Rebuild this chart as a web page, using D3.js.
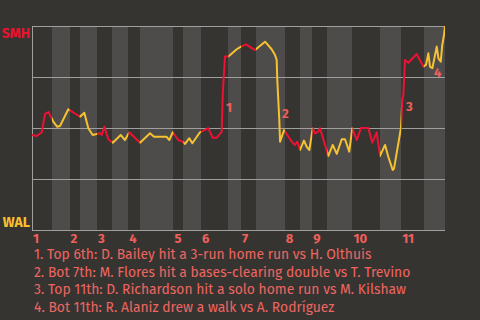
<!DOCTYPE html>
<html>
<head>
<meta charset="utf-8">
<script src="https://cdn.jsdelivr.net/npm/d3@7"></script>
<style>
  html, body { margin: 0; padding: 0; background: #363431; }
  svg { display: block; }
</style>
</head>
<body>
<div id="app"></div>
<script>
// pitches thrown in each half inning, top 1st .. bottom 11th
const halfPitches = [16, 14, 8, 14, 12, 13, 9, 27, 8, 14, 22, 10, 12, 23, 12, 10, 12, 20, 22, 17, 18, 17];
const innings = [1, 2, 3, 4, 5, 6, 7, 8, 9, 10, 11];
const yTicks = [0, 25, 50, 75, 100];

// win probability for SMH (%) by pitch of the game
const pitch = [0, 3.8, 7.8, 10.4, 13.3, 15.7, 17, 20.2, 22.4, 29, 38.4, 41.8, 45, 48.5, 51.7, 54.3, 55.7, 57.8, 61, 64.5,
  70.9, 74.3, 77.7, 86.3, 94.3, 97.5, 107.6, 109.7, 112.4, 116.9, 120.4, 122.3, 125.7, 128.1, 134.2, 140.9, 144.4, 147.6, 151.6, 152.4,
  153.2, 154.2, 156.9, 163.6, 167, 171, 178.2, 186.2, 191.5, 194.2, 195.5, 196, 197.6, 198.2, 201.4, 207.5, 210.1, 212, 214.1, 217.3,
  219.5, 221.6, 224.3, 226.1, 228.8, 230.1, 236.8, 240.3, 243.5, 247.5, 250.1, 253.5, 255.9, 259.5, 262.9, 268.7, 271.9, 275.4, 278.1, 282.1,
  284.7, 288.2, 289.3, 294.8, 295.9, 296.7, 298, 300.7, 307.4, 312.7, 314.8, 316.7, 318, 319.9, 323.4, 324.7, 326.6, 327.8, 329.2, 330];
const smhWinProb = [46.6, 46.1, 47.9, 56.9, 57.8, 54.8, 53.1, 50.6, 51, 59.2, 55.5, 57.5, 49.9, 46.6, 47.1, 47.4, 46.6, 50.6, 44.5, 42.8,
  46.6, 44.1, 47.9, 42.8, 47.4, 45.7, 45.7, 44.1, 47.9, 44.1, 43.3, 42.2, 45, 42.5, 47.9, 49.9, 45.2, 45.2, 48.2, 66.2,
  75.1, 85, 85, 88.6, 89.9, 91, 88.2, 92.3, 88.6, 85.8, 83.3, 73.5, 53.9, 43.3, 49, 43.3, 41.7, 43.3, 39.2, 43.8,
  40.8, 39.2, 49.9, 47.4, 48.2, 49.9, 36.3, 41.7, 37.3, 44.5, 44.5, 38.4, 49.9, 44.1, 50, 50, 42.8, 47.9, 36.3, 41.7,
  35.9, 29.4, 30.2, 49.9, 63.7, 66.2, 83.3, 82, 86.3, 80.1, 80.9, 86.6, 80.1, 79.3, 89.9, 84.2, 82.5, 90.7, 95.6, 100];

// key plays
const noteNum = ["1", "2", "3", "4"];
const notePitch = [154.2, 199, 298, 320.5];
const noteProb = [60.4, 57.5, 60.8, 77.6];
const notes = [
  "1. Top 6th: D. Bailey hit a 3-run home run vs H. Olthuis",
  "2. Bot 7th: M. Flores hit a bases-clearing double vs T. Trevino",
  "3. Top 11th: D. Richardson hit a solo home run vs M. Kilshaw",
  "4. Bot 11th: R. Alaniz drew a walk vs A. Rodríguez"
];

var width = 480,
  height = 320;

let svg = d3
  .select("#app")
  .append("svg")
  .attr("width", width)
  .attr("height", height)
  .attr("style", "background-color:#363431");

let starts = d3.cumsum([0].concat(halfPitches));
let total = d3.sum(halfPitches);

let x = d3.scaleLinear().domain([0, total]).range([32, 445]);
let y = d3.scaleLinear().domain([0, 100]).range([230, 26]);

let halves = halfPitches.map((n, i) => ({ i: i, start: starts[i], end: starts[i] + n }));

// bands for bottom halves
svg
  .append("g")
  .selectAll("rect")
  .data(halves.filter((d) => d.i % 2 == 1))
  .enter()
  .append("rect")
  .attr("x", (d) => x(d.start))
  .attr("width", (d) => x(d.end) - x(d.start))
  .attr("y", y(100))
  .attr("height", y(0) - y(100))
  .attr("fill", "#4d4c4a")
  .attr("shape-rendering", "crispEdges");

// horizontal grid
svg
  .append("g")
  .selectAll("line")
  .data(yTicks)
  .enter()
  .append("line")
  .attr("x1", x(0))
  .attr("x2", x(total))
  .attr("y1", (d) => y(d))
  .attr("y2", (d) => y(d))
  .style("stroke", "#a09f9d")
  .style("stroke-width", 1)
  .attr("shape-rendering", "crispEdges");

svg
  .append("line")
  .attr("x1", x(0))
  .attr("x2", x(0))
  .attr("y1", y(0))
  .attr("y2", y(100))
  .style("stroke", "#a09f9d")
  .style("stroke-width", 1)
  .attr("shape-rendering", "crispEdges");

// team labels
svg
  .append("text")
  .attr("x", 30)
  .attr("y", y(100) + 12)
  .attr("text-anchor", "end")
  .attr("fill", "#e8132f")
  .style("font", "bold 14px 'Fira Sans', Lato, sans-serif")
  .text("SMH");

svg
  .append("text")
  .attr("x", 30)
  .attr("y", y(0) - 3)
  .attr("text-anchor", "end")
  .attr("fill", "#f6c02c")
  .style("font", "bold 14px 'Fira Sans', Lato, sans-serif")
  .text("WAL");

// inning numbers
svg
  .append("g")
  .selectAll("text")
  .data(innings)
  .enter()
  .append("text")
  .attr("x", (d) => x(starts[(d - 1) * 2]) + 1)
  .attr("y", 243)
  .attr("fill", "#f0605c")
  .style("font", "bold 13px 'Fira Sans', Lato, sans-serif")
  .text((d) => d);

// note markers
svg
  .append("g")
  .selectAll("text")
  .data(noteNum)
  .enter()
  .append("text")
  .attr("x", (d, i) => x(notePitch[i]) + 1)
  .attr("y", (d, i) => y(noteProb[i]) + 5)
  .attr("fill", "#f0605c")
  .style("font", "bold 13px 'Fira Sans', Lato, sans-serif")
  .text((d) => d);

// win probability line, red while SMH bats, yellow while WAL bats
let defs = svg.append("defs");
["top", "bot"].forEach((side, k) => {
  defs
    .append("clipPath")
    .attr("id", "clip-" + side)
    .selectAll("rect")
    .data(halves.filter((d) => d.i % 2 == k))
    .enter()
    .append("rect")
    .attr("x", (d) => x(d.start))
    .attr("width", (d) => x(d.end) - x(d.start))
    .attr("y", 0)
    .attr("height", height);
});

let line = d3
  .line()
  .x((d, i) => x(pitch[i]))
  .y((d) => y(d));

svg
  .append("path")
  .datum(smhWinProb)
  .attr("d", line)
  .attr("clip-path", "url(#clip-top)")
  .attr("fill", "none")
  .attr("stroke", "#ee1133")
  .attr("stroke-width", 2)
  .attr("stroke-linejoin", "round");

svg
  .append("path")
  .datum(smhWinProb)
  .attr("d", line)
  .attr("clip-path", "url(#clip-bot)")
  .attr("fill", "none")
  .attr("stroke", "#f7c230")
  .attr("stroke-width", 2)
  .attr("stroke-linejoin", "round");

// notes below
let noteText = svg
  .append("g")
  .selectAll("text")
  .data(notes)
  .enter()
  .append("text")
  .attr("x", 34)
  .attr("y", (d, i) => 259 + i * 17.7)
  .attr("fill", "#ee6560")
  .style("font-family", "'Fira Sans', Lato, sans-serif")
  .style("font-size", "14px")
  .text((d) => d);

// fit the first note to the width it has in the chart
let w0 = noteText.node().getComputedTextLength();
noteText.style("font-size", (14 * 338) / w0 + "px");
</script>
</body>
</html>
